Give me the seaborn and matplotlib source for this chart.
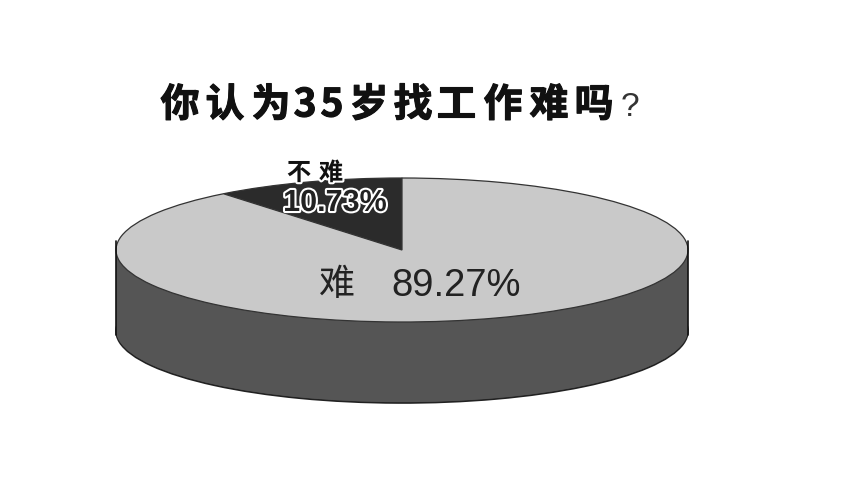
import matplotlib
matplotlib.use("Agg")
import matplotlib.pyplot as plt
import matplotlib.patheffects as pe
import seaborn as sns

title_chars = ["你", "认", "为", "3", "5", "岁", "找", "工", "作", "难", "吗"]
title_mark = "?"
categories = ["不", "难"]
values = [10.73, 89.27]
value_labels = ["10.73%", "89.27%"]

sns.set_theme(style="white")
plt.rcParams["font.family"] = ["Noto Sans CJK SC", "DejaVu Sans"]

top_colors = ["#2b2b2b", "#c9c9c9"]
side_color = "#555555"
edge_color = "#111111"

W, H = 867, 478
fig = plt.figure(figsize=(W / 100, H / 100), dpi=100, facecolor="white")
ax = fig.add_axes([0, 0, 1, 1])

cx, cy, a, b, depth = 402, 250, 286, 72, 81
# Outline of the base first, then the side wall stacked over it
ax.pie(values, radius=1, center=(0, -depth / b), startangle=90,
       colors=[side_color, side_color], frame=False,
       wedgeprops=dict(linewidth=1.2, edgecolor="#222222"))
for step in range(depth - 1, 0, -1):
    ax.pie(values, radius=1, center=(0, -step / b), startangle=90,
           colors=[side_color, side_color], frame=False,
           wedgeprops=dict(linewidth=0))
for side in (-1, 1):
    ax.plot([side, side], [0.12, -(depth + 4) / b], color=edge_color, lw=1.2)
ax.pie(values, radius=1, center=(0, 0), startangle=90, colors=top_colors,
       frame=False, wedgeprops=dict(linewidth=0.9, edgecolor="#333333"))

ax.set_aspect("auto")
ax.set_xlim((0 - cx) / a, (W - cx) / a)
ax.set_ylim((cy - H) / b, cy / b)
ax.axis("off")


def xf(px):
    return px / W


def yf(py):
    return 1 - py / H


title_x = [180, 225, 271, 305, 332, 369, 413, 456, 503, 549, 594]
for ch, px in zip(title_chars, title_x):
    fig.text(xf(px), yf(105), ch, fontsize=28, fontweight="bold",
             color="#111111", ha="center", va="center",
             path_effects=[pe.withStroke(linewidth=0.8, foreground="#111111")])
fig.text(xf(630), yf(108), title_mark, fontsize=24, color="#333333",
         ha="center", va="center", family=["Liberation Sans"])

halo = [pe.withStroke(linewidth=3, foreground="white")]
fig.text(xf(299), yf(173), categories[0], fontsize=17.5, fontweight="bold",
         color="#111111", ha="center", va="center", path_effects=halo)
fig.text(xf(331), yf(173), categories[1], fontsize=17.5, fontweight="bold",
         color="#111111", ha="center", va="center", path_effects=halo)
fig.text(xf(335), yf(203), value_labels[0], fontsize=22, fontweight="bold",
         color="#222222", ha="center", va="center",
         family=["Liberation Sans"], path_effects=halo)
fig.text(xf(337), yf(285), categories[1], fontsize=26, color="#222222",
         ha="center", va="center")
fig.text(xf(456), yf(286), value_labels[1], fontsize=27.5, color="#222222",
         ha="center", va="center", family=["Liberation Sans"])

fig.savefig("out.png", dpi=100, facecolor="white")
